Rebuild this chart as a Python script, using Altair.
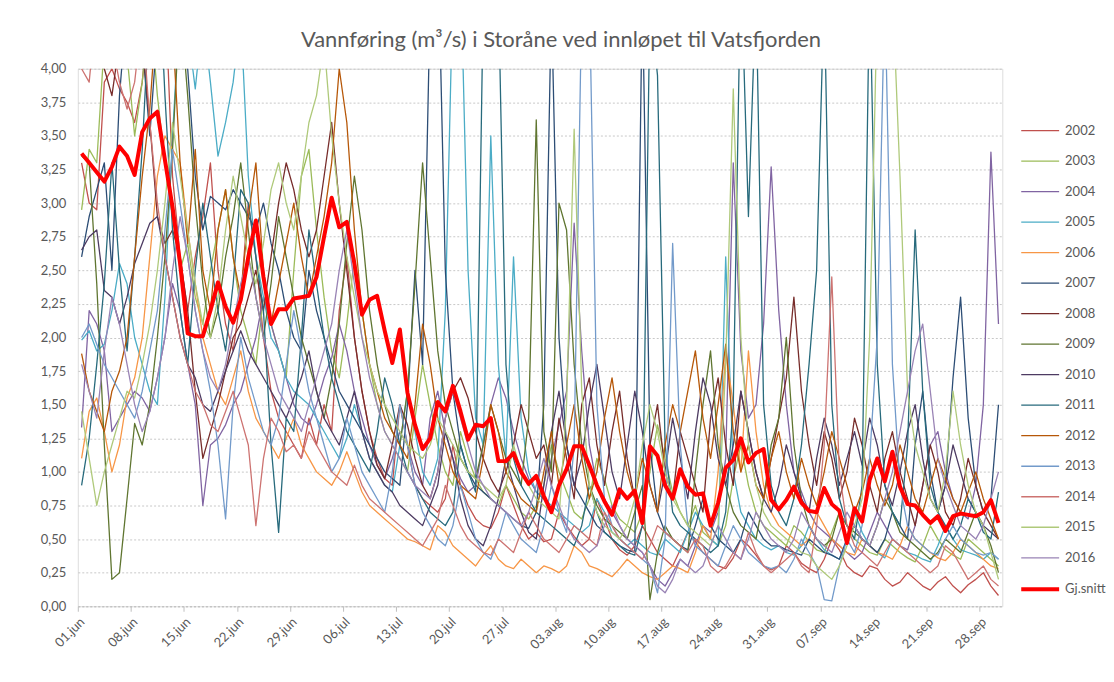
import json
import altair as alt
import pandas as pd

tick_labels = ["01.jun", "08.jun", "15.jun", "22.jun", "29.jun", "06.jul", "13.jul",
               "20.jul", "27.jul", "03.aug", "10.aug", "17.aug", "24.aug", "31.aug",
               "07.sep", "14.sep", "21.sep", "28.sep"]

y2002 = [3.3, 3.0, 2.95, 3.9, 4.0, 3.85, 3.75, 3.6, 3.9, 4.5, 5.0, 4.6, 3.2, 2.6, 2.2, 2.6, 2.9, 3.3, 2.5, 2.1, 1.9, 2.3, 3.0, 2.6, 2.0, 1.6, 1.4, 1.3, 1.2, 1.1,
         1.4, 1.2, 1.5, 1.3, 2.2, 2.6, 2.0, 1.6, 1.3, 1.1, 0.95, 0.9, 1.5, 1.2, 0.9, 0.8, 0.75, 0.7, 0.8, 1.2, 0.9, 0.75, 0.65, 0.6, 0.58, 0.7, 0.9, 0.75, 0.6, 0.5, 0.55,
         0.48, 0.5, 0.7, 0.6, 0.52, 0.45, 0.5, 0.8, 0.65, 0.5, 0.42, 0.38, 0.45, 0.6, 0.5, 0.4, 0.35, 0.3, 0.42, 0.55, 0.48, 0.4, 0.35, 0.3, 0.28, 0.36, 0.5, 0.45, 0.38, 0.3, 0.27,
         0.3, 0.45, 0.4, 0.32, 0.28, 0.25, 0.35, 0.5, 0.42, 0.3, 0.25, 0.22, 0.3, 0.28, 0.2, 0.15, 0.18, 0.25, 0.2, 0.15, 0.12, 0.18, 0.22, 0.15, 0.1, 0.16, 0.2, 0.25, 0.15, 0.08]
y2003 = [2.95, 3.4, 3.3, 4.2, 5.0, 4.8, 4.1, 3.5, 3.9, 4.5, 3.8, 3.3, 2.9, 2.5, 2.7, 2.3, 2.1, 2.5, 2.8, 3.1, 2.6, 2.2, 2.0, 1.8, 2.3, 2.1, 1.9, 1.7, 2.5, 3.2,
         3.4, 2.8, 2.3, 1.9, 1.7, 2.1, 2.6, 2.2, 1.8, 1.5, 1.3, 1.2, 1.1, 1.0, 1.4, 1.8, 1.5, 1.2, 1.0, 0.9, 1.3, 1.1, 0.95, 0.85, 0.8, 0.75, 0.9, 0.8, 0.7, 0.65, 0.75,
         0.9, 1.2, 1.0, 0.85, 0.7, 0.65, 0.8, 1.1, 0.95, 0.75, 0.65, 0.6, 0.55, 0.7, 1.0, 1.35, 1.1, 0.85, 0.7, 0.6, 0.75, 0.55, 0.5, 0.45, 0.6, 0.95, 1.2, 0.9, 0.7, 0.6, 0.55,
         0.5, 0.45, 0.6, 0.55, 0.48, 0.42, 0.4, 0.55, 0.7, 0.6, 0.5, 0.45, 0.4, 0.38, 0.5, 0.45, 0.4, 0.36, 0.33, 0.45, 0.6, 0.5, 0.42, 0.38, 0.35, 0.5, 0.45, 0.4, 0.35, 0.3]
y2004 = [1.33, 2.2, 2.1, 1.9, 1.3, 1.4, 1.5, 1.6, 1.55, 1.45, 1.7, 2.0, 2.4, 2.2, 1.8, 1.5, 0.75, 1.2, 1.25, 1.35, 1.5, 1.6, 1.8, 2.0, 2.3, 2.1, 1.9, 1.7, 1.5, 1.4,
         1.35, 1.5, 1.7, 1.85, 2.1, 1.9, 1.6, 1.4, 1.2, 1.05, 0.95, 1.1, 1.3, 1.2, 1.0, 0.9, 1.4, 1.6, 1.3, 1.1, 0.95, 0.85, 0.9, 1.2, 1.5, 1.7, 1.55, 1.3, 1.1, 0.95, 0.85,
         0.8, 1.1, 1.35, 1.6, 2.85, 1.9, 1.2, 0.9, 0.8, 0.7, 0.6, 0.5, 0.45, 0.4, 0.3, 0.2, 0.15, 0.25, 0.35, 0.3, 0.45, 0.6, 0.55, 0.7, 1.1, 3.3, 1.9, 1.4, 1.5, 2.1, 3.27,
         2.2, 1.5, 1.0, 0.85, 0.7, 0.6, 0.55, 0.5, 0.45, 0.4, 0.35, 0.4, 0.55, 0.7, 0.6, 0.5, 0.45, 0.42, 0.6, 0.9, 1.2, 1.3, 1.0, 0.8, 0.7, 0.65, 0.9, 1.5, 3.38, 2.1]
y2005 = [1.98, 2.05, 1.9, 1.95, 2.2, 2.55, 2.4, 2.0, 1.8, 1.6, 1.5, 2.3, 3.5, 4.5, 4.3, 3.85, 4.4, 3.9, 3.35, 3.6, 3.9, 4.4, 3.2, 2.6, 2.3, 2.0, 1.9, 1.7, 1.6, 1.55,
         1.5, 1.4, 1.3, 1.2, 1.1, 1.25, 1.5, 1.3, 1.1, 1.0, 0.9, 0.85, 1.2, 1.6, 1.3, 1.0, 0.9, 1.1, 2.2, 4.6, 4.8, 2.5, 1.4, 1.2, 3.5, 1.8, 1.1, 2.6, 1.4, 1.0, 0.85,
         0.8, 0.75, 0.7, 0.65, 0.6, 0.55, 0.6, 0.8, 0.7, 0.55, 0.5, 0.45, 0.5, 0.45, 0.4, 0.38, 0.5, 0.45, 0.4, 0.55, 0.7, 0.6, 0.5, 0.45, 2.6, 1.0, 0.7, 0.6, 0.5, 0.45, 0.42,
         0.45, 0.4, 0.38, 0.45, 0.6, 0.5, 0.42, 0.38, 0.35, 0.5, 0.7, 0.55, 0.45, 0.4, 0.36, 0.5, 0.45, 0.4, 0.38, 0.35, 0.33, 0.45, 0.6, 0.5, 0.42, 0.4, 0.38, 0.35, 0.4, 0.35]
y2006 = [1.1, 1.45, 1.55, 1.3, 1.0, 1.2, 1.55, 1.7, 2.0, 2.6, 3.2, 3.5, 3.4, 3.3, 2.8, 2.4, 2.0, 1.8, 1.6, 1.5, 1.7, 1.9, 1.6, 1.4, 1.3, 1.2, 1.1, 1.25, 1.4, 1.2,
         1.1, 1.0, 0.95, 0.9, 1.0, 1.15, 1.0, 0.85, 0.75, 0.7, 0.65, 0.6, 0.55, 0.5, 0.48, 0.45, 0.42, 0.6, 0.55, 0.45, 0.4, 0.35, 0.3, 0.38, 0.45, 0.35, 0.3, 0.28, 0.35, 0.3, 0.25,
         0.3, 0.28, 0.25, 0.3, 0.45, 0.4, 0.3, 0.28, 0.25, 0.22, 0.28, 0.35, 0.3, 0.25, 0.22, 0.2, 0.25, 0.3, 0.28, 0.25, 0.4, 0.6, 0.5, 1.0, 1.9, 1.5, 1.0, 1.9, 1.3, 0.9, 0.7,
         0.6, 0.55, 0.5, 0.45, 0.5, 0.7, 0.6, 0.5, 0.45, 0.4, 0.38, 0.5, 0.45, 0.4, 0.38, 0.35, 0.45, 0.6, 0.5, 0.45, 0.4, 0.36, 0.34, 0.4, 0.5, 0.45, 0.4, 0.35, 0.3, 0.28]
y2007 = [2.6, 2.9, 3.1, 3.3, 2.5, 3.8, 4.5, 5.0, 4.2, 3.5, 4.3, 5.0, 5.5, 4.8, 4.0, 3.2, 2.8, 3.05, 3.0, 2.95, 3.1, 3.0, 2.9, 2.8, 3.0, 2.7, 2.5, 2.2, 2.0, 1.9,
         2.5, 2.2, 2.0, 1.8, 1.6, 1.5, 1.4, 1.3, 1.2, 1.1, 1.0, 0.95, 0.9, 1.5, 2.5, 1.8, 4.5, 5.0, 2.5, 1.6, 1.2, 1.0, 0.9, 0.85, 0.8, 0.75, 0.7, 0.65, 0.6, 0.58, 0.7,
         1.5, 4.5, 2.0, 1.2, 0.9, 0.8, 0.7, 0.6, 0.55, 0.5, 0.45, 0.42, 0.4, 4.6, 1.2, 0.7, 0.55, 0.5, 0.45, 0.42, 0.6, 0.8, 0.6, 0.5, 0.45, 0.4, 0.5, 0.7, 0.6, 0.5, 0.45,
         0.45, 0.42, 0.4, 0.38, 0.5, 0.45, 0.4, 0.38, 0.35, 0.5, 0.6, 0.5, 0.45, 0.4, 0.5, 0.7, 0.6, 0.5, 1.2, 1.6, 1.0, 0.7, 0.9, 1.7, 2.3, 1.4, 0.9, 0.7, 0.8, 1.5]
y2008 = [4.5, 5.0, 4.6, 4.0, 3.8, 4.2, 4.8, 5.0, 4.2, 3.6, 2.9, 2.7, 2.8, 2.6, 2.2, 1.6, 1.1, 1.3, 1.5, 1.75, 2.0, 2.1, 2.3, 2.5, 2.2, 2.6, 3.0, 3.3, 3.1, 2.8,
         2.6, 2.8, 3.2, 3.6, 3.0, 2.5, 2.0, 1.6, 1.3, 1.05, 0.95, 1.2, 1.5, 1.35, 1.1, 0.9, 0.8, 1.0, 1.4, 1.6, 1.7, 1.55, 1.3, 1.1, 0.95, 0.85, 1.0, 1.2, 1.5, 1.3, 1.1,
         1.2, 0.9, 1.4, 1.1, 0.8, 1.5, 1.7, 1.2, 0.9, 1.3, 1.6, 1.1, 0.8, 0.7, 1.2, 1.5, 1.0, 0.8, 1.3, 1.1, 0.9, 0.7, 1.4, 1.7, 1.2, 0.9, 1.6, 1.3, 1.0, 0.8, 1.1,
         1.4, 1.7, 2.3, 1.6, 1.2, 0.9, 1.3, 1.1, 0.8, 1.0, 1.4, 1.2, 0.9, 0.7, 1.1, 1.3, 1.0, 0.8, 0.6, 0.9, 1.2, 1.0, 0.7, 0.6, 0.8, 1.1, 0.9, 0.7, 0.6, 0.5]
y2009 = [3.35, 3.3, 2.4, 1.2, 0.2, 0.25, 0.8, 1.36, 1.2, 1.5, 2.0, 2.6, 3.4, 4.5, 3.8, 3.0, 2.4, 2.0, 2.2, 2.6, 2.9, 3.3, 2.8, 2.3, 2.0, 2.4, 2.9, 2.6, 2.3, 2.0,
         1.8, 1.6, 1.4, 1.7, 2.1, 2.7, 3.2, 2.8, 2.2, 1.8, 1.5, 1.3, 1.2, 1.6, 2.4, 3.3, 2.6, 1.9, 1.5, 1.3, 1.1, 1.0, 0.95, 1.2, 1.5, 1.3, 1.1, 1.0, 0.9, 1.4, 3.62,
         1.3, 1.0, 3.0, 2.8, 1.8, 1.2, 0.9, 0.75, 0.65, 0.6, 0.55, 0.5, 0.7, 0.9, 0.05, 0.4, 0.6, 0.5, 0.45, 0.4, 1.0, 1.5, 1.9, 1.2, 0.9, 0.7, 0.6, 0.55, 0.5, 0.8, 1.2,
         1.4, 2.0, 1.2, 0.8, 0.6, 0.5, 0.45, 0.5, 0.7, 0.6, 0.55, 0.5, 0.45, 0.6, 0.8, 0.7, 0.55, 0.5, 0.45, 0.4, 0.35, 0.4, 0.5, 0.45, 0.4, 0.55, 0.7, 0.6, 0.45, 0.25]
y2010 = [2.65, 2.75, 2.8, 2.35, 2.3, 2.1, 2.3, 2.55, 2.7, 2.85, 2.9, 2.6, 2.3, 2.0, 1.8, 1.7, 1.5, 1.45, 1.6, 1.75, 1.9, 2.05, 1.9, 1.8, 1.7, 1.6, 1.5, 1.4, 1.55, 1.7,
         1.9, 1.6, 1.4, 1.3, 1.2, 1.4, 1.6, 1.3, 1.1, 1.0, 0.9, 0.85, 0.75, 0.7, 0.65, 0.6, 0.75, 0.9, 1.3, 1.1, 0.8, 0.6, 0.5, 0.45, 0.6, 0.8, 1.1, 0.9, 0.7, 0.55, 0.5,
         0.9, 1.3, 1.6, 1.2, 0.9, 1.1, 1.5, 1.8, 1.4, 1.0, 0.8, 1.2, 1.6, 1.3, 0.9, 0.7, 1.0, 1.4, 1.1, 0.8, 1.3, 1.7, 1.5, 1.1, 0.9, 1.2, 1.6, 1.3, 1.0, 0.8, 0.7,
         0.9, 1.2, 1.0, 0.8, 0.7, 1.1, 1.4, 1.2, 0.9, 1.1, 1.3, 1.05, 1.4, 1.2, 0.9, 0.75, 1.0, 1.3, 1.5, 1.1, 0.8, 0.7, 0.9, 1.2, 1.0, 0.8, 0.7, 0.6, 0.55, 0.5]
y2011 = [0.9, 1.25, 1.8, 2.4, 3.3, 2.5, 1.9, 2.6, 3.4, 4.5, 5.0, 3.8, 2.8, 2.2, 1.8, 2.5, 3.0, 2.6, 2.2, 1.9, 2.4, 3.1, 3.0, 2.6, 2.2, 1.2, 0.55, 1.4, 1.3, 2.0,
         2.8, 2.4, 2.0, 1.7, 1.5, 1.3, 1.2, 1.1, 1.0, 1.3, 1.7, 1.5, 1.2, 1.0, 0.9, 0.8, 0.7, 0.65, 0.6, 0.7, 1.2, 1.0, 0.85, 4.5, 5.0, 4.6, 1.8, 1.1, 0.9, 0.8, 0.7,
         0.65, 0.6, 0.55, 0.5, 0.45, 0.6, 0.9, 0.7, 0.55, 0.5, 0.45, 0.4, 0.38, 0.6, 4.5, 3.95, 1.2, 0.7, 0.6, 0.55, 0.5, 0.45, 0.4, 0.45, 0.7, 1.5, 4.8, 2.9, 4.6, 1.5, 0.9,
         0.7, 0.6, 0.8, 1.2, 1.8, 2.5, 4.6, 1.5, 0.8, 0.6, 0.5, 0.9, 4.7, 1.8, 0.9, 0.7, 0.6, 1.2, 2.8, 1.6, 0.9, 0.7, 0.6, 0.5, 0.6, 0.8, 0.7, 0.55, 0.5, 0.85]
y2012 = [1.88, 1.6, 1.45, 1.3, 1.6, 1.75, 2.0, 2.6, 3.2, 3.7, 4.5, 5.0, 4.3, 3.3, 2.7, 3.4, 2.5, 2.2, 2.8, 3.1, 2.6, 2.3, 2.9, 3.3, 2.5, 2.1, 2.4, 2.7, 3.0, 2.6,
         2.3, 2.6, 2.9, 3.3, 4.0, 3.6, 2.8, 2.2, 1.8, 1.6, 1.4, 1.3, 1.2, 1.1, 1.5, 2.1, 1.8, 1.4, 1.2, 1.0, 0.9, 0.85, 0.8, 1.1, 1.5, 1.3, 1.0, 0.9, 0.8, 0.75, 0.7,
         1.0, 1.3, 0.9, 1.2, 1.5, 1.1, 0.8, 1.0, 1.4, 1.7, 1.3, 1.0, 0.8, 1.1, 0.9, 0.7, 1.2, 1.5, 1.3, 1.6, 1.9, 1.4, 1.1, 1.5, 1.95, 1.3, 1.0, 1.2, 0.9, 0.8, 1.1,
         1.3, 1.0, 0.8, 1.1, 0.9, 0.75, 1.0, 1.3, 1.1, 0.9, 0.7, 0.85, 1.1, 0.9, 0.75, 0.9, 1.2, 1.0, 0.8, 0.7, 0.9, 1.1, 0.95, 0.8, 0.7, 0.85, 1.0, 0.8, 0.65, 0.5]
y2013 = [2.0, 2.1, 1.95, 1.8, 1.7, 1.6, 1.5, 1.4, 1.6, 1.9, 2.2, 2.8, 3.4, 3.0, 2.6, 2.2, 1.9, 1.6, 1.2, 0.65, 1.5, 2.0, 1.7, 1.5, 1.3, 1.2, 1.4, 1.8, 2.2, 1.9,
         1.6, 1.4, 1.2, 1.0, 1.1, 1.4, 1.2, 1.0, 0.9, 0.8, 0.7, 1.0, 1.5, 1.2, 0.9, 0.7, 0.6, 0.5, 0.45, 0.6, 0.9, 0.7, 0.5, 0.4, 0.35, 0.5, 0.7, 0.6, 0.5, 0.45, 0.4,
         0.6, 0.9, 0.7, 0.55, 1.2, 4.5, 4.6, 1.5, 0.8, 0.6, 0.5, 0.45, 0.4, 0.35, 0.3, 0.1, 0.5, 2.7, 1.2, 0.6, 0.45, 0.4, 0.35, 0.3, 0.45, 0.6, 0.5, 0.4, 0.35, 0.3, 0.28,
         0.3, 0.25, 0.35, 0.5, 0.4, 0.3, 0.05, 0.04, 0.3, 0.5, 0.4, 0.6, 1.1, 2.0, 4.6, 1.8, 0.9, 0.6, 0.5, 0.45, 0.4, 0.38, 0.5, 0.6, 0.5, 0.45, 0.4, 0.38, 0.4, 0.35]
y2014 = [4.0, 3.9, 4.5, 5.0, 4.2, 3.9, 3.7, 3.9, 4.4, 3.6, 3.0, 2.6, 2.3, 2.0, 1.8, 1.6, 1.5, 1.35, 1.3, 1.45, 1.6, 1.4, 1.2, 0.6, 1.1, 1.4, 1.3, 1.15, 1.2, 1.1,
         1.3, 1.2, 1.1, 1.0, 0.95, 0.9, 1.05, 0.9, 0.8, 0.75, 0.7, 0.65, 0.6, 0.55, 0.5, 0.45, 0.55, 0.65, 0.9, 0.75, 0.6, 0.5, 0.45, 0.4, 0.38, 0.5, 0.45, 0.4, 0.55, 0.7, 0.6,
         0.5, 0.45, 0.4, 0.5, 0.6, 0.55, 0.5, 0.45, 0.7, 0.6, 0.5, 0.45, 0.4, 0.35, 0.45, 0.6, 0.55, 0.5, 0.45, 0.4, 0.5, 0.45, 0.3, 0.25, 0.3, 0.4, 0.35, 0.55, 0.4, 0.3, 0.25,
         0.3, 0.35, 0.4, 0.3, 0.25, 0.6, 1.2, 2.45, 1.0, 0.6, 0.45, 0.4, 0.35, 0.3, 0.4, 0.5, 0.45, 0.4, 0.35, 0.3, 0.25, 0.3, 0.45, 0.4, 0.3, 0.2, 0.25, 0.3, 0.2, 0.15]
y2015 = [1.45, 1.1, 0.75, 1.0, 1.2, 1.4, 1.6, 1.55, 1.8, 2.1, 2.5, 3.0, 3.6, 3.2, 2.8, 2.4, 2.1, 2.0, 2.3, 2.8, 3.2, 2.9, 2.6, 2.4, 2.7, 3.1, 3.3, 3.0, 2.8, 3.2,
         3.6, 3.8, 4.2, 3.5, 3.0, 2.6, 2.3, 2.0, 1.8, 1.6, 1.5, 1.4, 1.3, 1.2, 1.15, 1.1, 1.2, 1.4, 1.3, 1.2, 1.1, 1.0, 0.95, 0.9, 0.85, 0.8, 0.9, 1.2, 1.0, 0.9, 0.8,
         0.75, 0.7, 0.65, 1.5, 3.55, 1.6, 0.9, 0.7, 0.6, 0.55, 0.5, 0.6, 0.8, 1.2, 1.5, 1.3, 1.0, 0.8, 0.7, 0.6, 0.55, 0.5, 0.45, 0.6, 1.8, 3.85, 2.0, 1.2, 0.9, 0.7, 0.6,
         0.55, 0.5, 0.45, 0.4, 0.38, 0.3, 0.25, 0.2, 0.3, 0.45, 0.6, 0.8, 2.0, 4.5, 5.0, 4.6, 3.2, 1.6, 1.2, 1.0, 0.8, 0.7, 1.0, 1.6, 1.2, 0.9, 0.7, 0.6, 0.4, 0.2]
y2016 = [1.8, 1.6, 1.4, 1.9, 2.3, 2.1, 1.8, 1.5, 1.3, 1.45, 1.7, 2.0, 2.5, 2.9, 2.6, 2.2, 1.9, 1.7, 1.6, 1.8, 2.1, 2.4, 2.6, 2.3, 2.0, 1.8, 1.6, 1.5, 1.4, 1.3,
         1.5, 1.7, 1.9, 2.1, 2.5, 2.8, 2.4, 2.0, 1.7, 1.5, 1.3, 1.2, 1.1, 1.0, 0.9, 0.85, 0.8, 1.0, 1.4, 1.6, 1.4, 1.2, 1.0, 0.9, 0.8, 0.75, 0.7, 0.65, 0.6, 0.7, 0.9,
         1.1, 0.9, 0.75, 0.6, 0.5, 0.45, 0.4, 0.45, 0.6, 0.75, 0.6, 0.5, 0.45, 0.4, 0.3, 0.15, 0.1, 0.2, 0.35, 0.3, 0.25, 0.3, 0.45, 0.6, 0.5, 0.4, 0.35, 0.5, 0.7, 0.6, 0.5,
         0.45, 0.4, 0.5, 0.7, 0.6, 0.5, 0.45, 0.4, 0.55, 0.7, 0.6, 0.5, 0.45, 0.6, 0.8, 1.0, 1.3, 1.6, 1.9, 2.1, 1.6, 1.1, 0.9, 0.75, 0.6, 0.55, 0.5, 0.6, 0.8, 1.0]
gj_snitt = [3.37, 3.30, 3.23, 3.16, 3.27, 3.42, 3.35, 3.21, 3.53, 3.63, 3.68, 3.32, 2.97, 2.55, 2.03, 2.01, 2.01, 2.20, 2.41, 2.23,
            2.11, 2.28, 2.60, 2.87, 2.45, 2.10, 2.21, 2.21, 2.29, 2.30, 2.31, 2.45, 2.75, 3.04, 2.82, 2.86, 2.55, 2.17, 2.28, 2.31,
            2.05, 1.81, 2.06, 1.59, 1.35, 1.17, 1.25, 1.52, 1.45, 1.64, 1.45, 1.24, 1.35, 1.34, 1.40, 1.08, 1.08, 1.14, 1.00, 0.91,
            0.97, 0.82, 0.70, 0.90, 1.02, 1.19, 1.19, 1.05, 0.90, 0.78, 0.68, 0.87, 0.80, 0.86, 0.62, 1.19, 1.12, 0.90, 0.80, 1.02,
            0.89, 0.83, 0.84, 0.60, 0.77, 1.03, 1.09, 1.25, 1.07, 1.14, 1.17, 0.79, 0.72, 0.79, 0.89, 0.77, 0.71, 0.70, 0.88, 0.76,
            0.71, 0.47, 0.73, 0.63, 0.94, 1.10, 0.93, 1.15, 0.89, 0.76, 0.75, 0.68, 0.62, 0.67, 0.56, 0.67, 0.69, 0.68, 0.67, 0.70,
            0.79, 0.62]

series_names = ["2002", "2003", "2004", "2005", "2006", "2007", "2008", "2009",
                "2010", "2011", "2012", "2013", "2014", "2015", "2016", "Gj.snitt"]
series_values = [y2002, y2003, y2004, y2005, y2006, y2007, y2008, y2009,
                 y2010, y2011, y2012, y2013, y2014, y2015, y2016, gj_snitt]
series_colors = ["#C0504D", "#9BBB59", "#8064A2", "#4BACC6", "#F79646", "#2C4D75",
                 "#772C2A", "#5F7530", "#4D3B62", "#276A7C", "#B65708", "#729ACA",
                 "#CD7371", "#AFC97A", "#9983B5", "#FF0000"]
series_widths = [1.3] * 15 + [4.0]

rows = []
for name, vals in zip(series_names, series_values):
    if len(vals) != 122:
        raise ValueError(f"{name}: {len(vals)} values")
    for d, v in enumerate(vals):
        rows.append({"serie": name, "dag": d + 0.5, "verdi": v})
df = pd.DataFrame(rows)

x_label_expr = json.dumps(tick_labels) + "[round(datum.value / 7)]"
y_label_expr = "replace(format(datum.value, '.2f'), '.', ',')"

FONT = "Lato"
GREY = "#595959"

legend_kw = dict(
    orient="none", legendX=953, legendY=51, title=None,
    symbolType="M-1.9,0L1.9,0", symbolSize=400,
    labelFont=FONT, labelFontSize=13, labelColor=GREY,
    rowPadding=12.6, labelOffset=13,
)

chart = alt.Chart(df).mark_line(clip=True, strokeJoin="round").encode(
    x=alt.X("dag:Q",
            scale=alt.Scale(domain=[0, 122], nice=False, zero=False),
            axis=alt.Axis(values=list(range(0, 120, 7)), labelExpr=x_label_expr,
                          labelAngle=-45, grid=False, title=None,
                          labelFont=FONT, labelFontSize=13, labelColor=GREY,
                          domainColor="#bfbfbf", domainDash=[2, 2], tickColor="#bfbfbf",
                          tickSize=5, labelPadding=4)),
    y=alt.Y("verdi:Q",
            scale=alt.Scale(domain=[0, 4], nice=False, zero=True),
            axis=alt.Axis(values=[i * 0.25 for i in range(17)], labelExpr=y_label_expr,
                          title=None, domain=False, ticks=False,
                          labelFont=FONT, labelFontSize=13, labelColor=GREY,
                          labelPadding=12, minExtent=62, maxExtent=62,
                          gridColor="#c8c8c8", gridDash=[2, 2], gridWidth=1)),
    color=alt.Color("serie:N", scale=alt.Scale(domain=series_names, range=series_colors),
                    legend=alt.Legend(**legend_kw)),
    strokeWidth=alt.StrokeWidth("serie:N",
                                scale=alt.Scale(type="ordinal", domain=series_names, range=series_widths),
                                legend=alt.Legend(**legend_kw)),
).properties(
    width=927,
    height=539,
    padding={"left": 8, "top": 20, "right": 0, "bottom": 5},
    title=alt.TitleParams(
        "Vannføring (m³/s) i Storåne ved innløpet til Vatsfjorden",
        font=FONT, fontSize=22, fontWeight="normal", color=GREY,
        anchor="middle", frame="bounds", offset=11,
    ),
).configure_view(stroke=None).configure(background="white")

chart.save("out.html", embed_options={"renderer": "svg", "actions": False})
